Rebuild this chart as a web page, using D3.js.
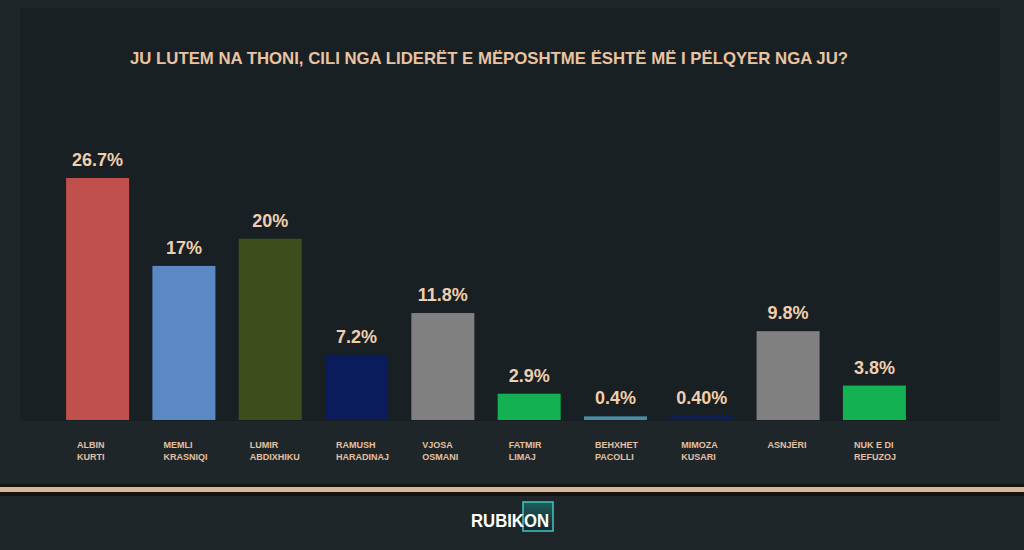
<!DOCTYPE html>
<html>
<head>
<meta charset="utf-8">
<script src="https://cdn.jsdelivr.net/npm/d3@7"></script>
<style>
  body { margin: 0; background: #1f2629; }
</style>
</head>
<body>
<div id="chart"></div>
<script>
// poll data
var names = [
    ["ALBIN", "KURTI"], ["MEMLI", "KRASNIQI"], ["LUMIR", "ABDIXHIKU"],
    ["RAMUSH", "HARADINAJ"], ["VJOSA", "OSMANI"], ["FATMIR", "LIMAJ"],
    ["BEHXHET", "PACOLLI"], ["MIMOZA", "KUSARI"], ["ASNJËRI"], ["NUK E DI", "REFUZOJ"]
];
var values = [26.7, 17, 20, 7.2, 11.8, 2.9, 0.4, 0.40, 9.8, 3.8];
var valueLabels = ["26.7%", "17%", "20%", "7.2%", "11.8%", "2.9%", "0.4%", "0.40%", "9.8%", "3.8%"];
var barColors = ["#c0504d", "#5a89c4", "#3d4d1c", "#0b1c5c", "#808080",
                 "#13b152", "#4a8ea6", "#0d1d5a", "#808080", "#13b152"];
var title = "JU LUTEM NA THONI, CILI NGA LIDERËT E MËPOSHTME ËSHTË MË I PËLQYER NGA JU?";

var w = 1024, h = 550;
var base = 420;

var svg = d3.select("#chart").append("svg")
    .attr("width", w)
    .attr("height", h);

// outer background and the slightly darker panel behind the bars
svg.append("rect")
    .attr("width", w).attr("height", h)
    .attr("fill", "#1f2629");
svg.append("rect")
    .attr("x", 20).attr("y", 8)
    .attr("width", 980).attr("height", base - 8 + 1)
    .attr("fill", "#182023");

svg.append("text")
    .attr("x", 489)
    .attr("y", 64)
    .attr("text-anchor", "middle")
    .attr("textLength", 718)
    .attr("lengthAdjust", "spacingAndGlyphs")
    .style("font-family", "'Liberation Sans', Arial, sans-serif")
    .style("font-weight", "bold")
    .style("font-size", "17px")
    .style("fill", "#e9c4a2")
    .text(title);

// scales
var x = d3.scaleBand()
    .domain(d3.range(values.length))
    .range([54, 918])
    .paddingInner(0.27)
    .paddingOuter(0.14);

var y = d3.scaleLinear()
    .domain([0, d3.max(values)])
    .range([base, 178]);

var bars = svg.append("g").selectAll("g")
    .data(values)
    .join("g");

bars.append("rect")
    .attr("x", function(d, i) { return x(i); })
    .attr("y", function(d) { return y(d); })
    .attr("width", x.bandwidth())
    .attr("height", function(d) { return base - y(d); })
    .attr("fill", function(d, i) { return barColors[i]; });

bars.append("text")
    .attr("x", function(d, i) { return x(i) + x.bandwidth() / 2; })
    .attr("y", function(d) { return y(d) - 12; })
    .attr("text-anchor", "middle")
    .style("font-family", "'Liberation Sans', Arial, sans-serif")
    .style("font-weight", "bold")
    .style("font-size", "18px")
    .style("fill", "#f1cfae")
    .text(function(d, i) { return valueLabels[i]; });

// two line category labels under each bar
bars.append("text")
    .attr("y", 448)
    .style("font-family", "'Liberation Sans', Arial, sans-serif")
    .style("font-weight", "bold")
    .style("font-size", "9px")
    .style("fill", "#e4c1a3")
    .selectAll("tspan")
    .data(function(d, i) { return names[i].map(function(s) { return [s, i]; }); })
    .join("tspan")
    .attr("x", function(t) { return x(t[1]) + 11; })
    .attr("dy", function(t, j) { return j == 0 ? 0 : 12; })
    .text(function(t) { return t[0]; });

// beige divider line
svg.append("rect")
    .attr("x", 0).attr("y", 484)
    .attr("width", w).attr("height", 12)
    .attr("fill", "#17140f");
svg.append("rect")
    .attr("x", 0).attr("y", 487)
    .attr("width", w).attr("height", 5)
    .attr("fill", "#d2b89e");

// RUBIKON logo
var grad = svg.append("defs").append("linearGradient")
    .attr("id", "logoGrad")
    .attr("x1", 0).attr("y1", 0).attr("x2", 0).attr("y2", 1);
grad.append("stop").attr("offset", 0).attr("stop-color", "#1f5d5c");
grad.append("stop").attr("offset", 1).attr("stop-color", "#142629");

svg.append("rect")
    .attr("x", 523).attr("y", 502)
    .attr("width", 30).attr("height", 29)
    .attr("fill", "url(#logoGrad)")
    .attr("stroke", "#3fc7c0")
    .attr("stroke-width", 1.5);
svg.append("text")
    .attr("x", 510)
    .attr("y", 527)
    .attr("text-anchor", "middle")
    .attr("textLength", 78)
    .attr("lengthAdjust", "spacingAndGlyphs")
    .style("font-family", "'Liberation Sans', Arial, sans-serif")
    .style("font-weight", "bold")
    .style("font-size", "18px")
    .style("fill", "#ffffff")
    .text("RUBIKON");
</script>
</body>
</html>
